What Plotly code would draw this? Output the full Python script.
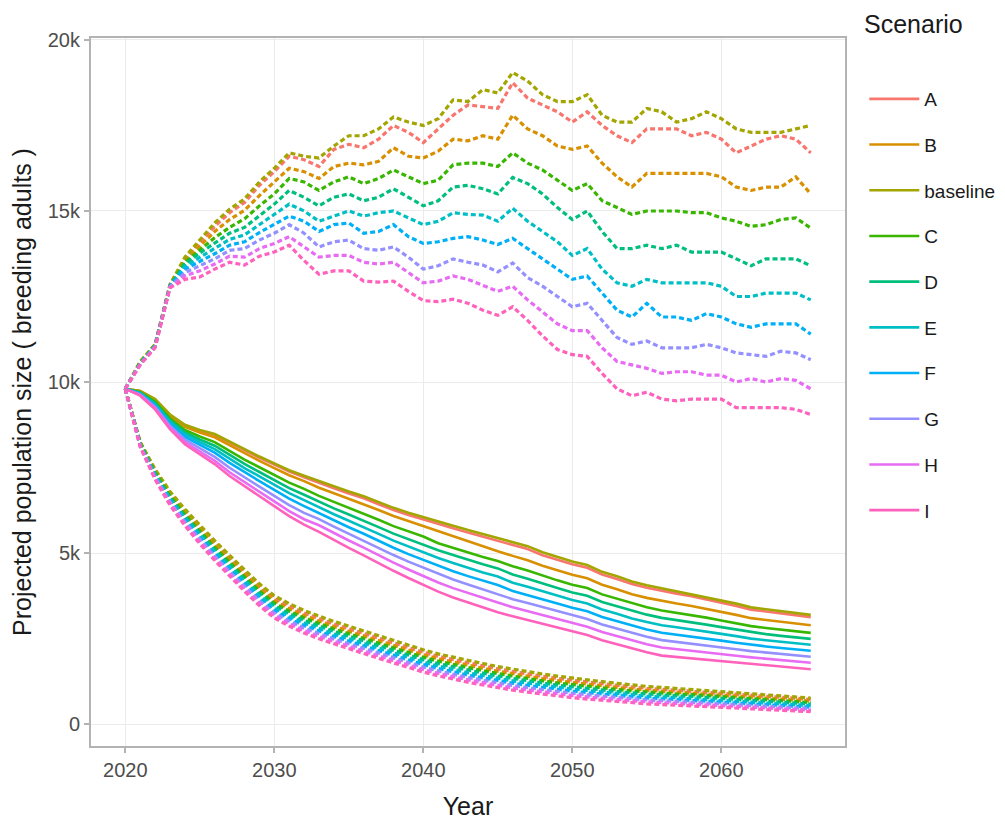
import plotly.graph_objects as go

years = list(range(2020, 2067))
scenarios = ["A", "B", "baseline", "C", "D", "E", "F", "G", "H", "I"]
colors = ["#F8766D", "#D89000", "#A3A500", "#39B600", "#00BF7D",
          "#00BFC4", "#00B0F6", "#9590FF", "#E76BF3", "#FF62BC"]

# ---- median (solid) ----
med_A = [9800, 9736, 9491, 9037, 8733, 8578, 8454, 8230, 7988, 7785,
         7583, 7380, 7217, 7048, 6895, 6742, 6599, 6427, 6256, 6113,
         5990, 5848, 5727, 5596, 5475, 5364, 5243, 5114, 4937, 4798,
         4668, 4568, 4370, 4240, 4091, 3982, 3891, 3813, 3734, 3646,
         3548, 3451, 3344, 3284, 3225, 3176, 3126]
med_B = [9800, 9725, 9467, 9003, 8687, 8521, 8383, 8149, 7902, 7692,
         7483, 7273, 7103, 6908, 6746, 6586, 6435, 6257, 6081, 5932,
         5801, 5633, 5485, 5331, 5185, 5049, 4916, 4790, 4625, 4489,
         4361, 4261, 4070, 3942, 3796, 3688, 3596, 3523, 3451, 3369,
         3280, 3191, 3095, 3038, 2982, 2934, 2888]
med_baseline = [9800, 9740, 9500, 9050, 8750, 8600, 8480, 8260, 8020, 7820,
                7620, 7420, 7260, 7100, 6950, 6800, 6660, 6490, 6320, 6180,
                6060, 5920, 5800, 5670, 5550, 5440, 5330, 5200, 5020, 4880,
                4750, 4650, 4450, 4320, 4170, 4060, 3970, 3890, 3810, 3720,
                3620, 3520, 3410, 3350, 3290, 3240, 3190]
med_C = [9800, 9702, 9419, 8934, 8596, 8406, 8242, 7987, 7731, 7507,
         7283, 7058, 6874, 6671, 6495, 6322, 6158, 5971, 5786, 5626,
         5483, 5285, 5149, 5013, 4884, 4767, 4611, 4487, 4334, 4200,
         4074, 3974, 3790, 3663, 3520, 3413, 3320, 3253, 3186, 3110,
         3029, 2949, 2862, 2809, 2755, 2709, 2665]
med_D = [9800, 9685, 9383, 8882, 8528, 8319, 8137, 7866, 7603, 7368,
         7133, 6897, 6702, 6493, 6306, 6124, 5951, 5756, 5566, 5397,
         5244, 5080, 4939, 4801, 4669, 4550, 4371, 4250, 4105, 3974,
         3848, 3748, 3570, 3444, 3303, 3198, 3103, 3041, 2978, 2906,
         2832, 2759, 2680, 2628, 2577, 2532, 2490]
med_E = [9800, 9670, 9350, 8835, 8465, 8240, 8040, 7755, 7485, 7240,
         6995, 6750, 6545, 6330, 6134, 5942, 5760, 5559, 5363, 5187,
         5025, 4854, 4708, 4568, 4432, 4312, 4131, 4012, 3876, 3747,
         3623, 3523, 3350, 3226, 3087, 2982, 2887, 2829, 2771, 2703,
         2636, 2569, 2497, 2448, 2399, 2355, 2316]
med_F = [9800, 9653, 9314, 8783, 8397, 8154, 7934, 7634, 7357, 7101,
         6845, 6589, 6373, 6160, 5953, 5752, 5562, 5353, 5152, 4967,
         4796, 4618, 4467, 4324, 4185, 4062, 3891, 3774, 3647, 3520,
         3397, 3297, 3130, 3007, 2870, 2766, 2670, 2616, 2563, 2499,
         2439, 2378, 2314, 2268, 2221, 2177, 2141]
med_G = [9800, 9634, 9272, 8723, 8317, 8053, 7811, 7492, 7207, 6938,
         6670, 6402, 6173, 5990, 5773, 5563, 5363, 5148, 4940, 4748,
         4568, 4383, 4225, 4080, 3938, 3813, 3651, 3537, 3418, 3294,
         3172, 3072, 2910, 2788, 2653, 2551, 2453, 2404, 2355, 2296,
         2242, 2188, 2132, 2087, 2043, 2000, 1966]
med_H = [9800, 9615, 9233, 8667, 8243, 7959, 7697, 7361, 7068, 6788,
         6508, 6227, 5987, 5812, 5584, 5365, 5155, 4933, 4719, 4518,
         4329, 4137, 3973, 3826, 3680, 3552, 3412, 3299, 3190, 3067,
         2946, 2846, 2690, 2569, 2436, 2335, 2236, 2192, 2147, 2092,
         2045, 1998, 1949, 1907, 1864, 1823, 1791]
med_I = [9800, 9600, 9200, 8620, 8180, 7880, 7600, 7250, 6950, 6660,
         6370, 6080, 5830, 5620, 5380, 5150, 4930, 4700, 4480, 4270,
         4070, 3870, 3700, 3550, 3400, 3270, 3150, 3040, 2940, 2820,
         2700, 2600, 2450, 2330, 2200, 2100, 2000, 1960, 1920, 1870,
         1830, 1790, 1750, 1710, 1670, 1630, 1600]

# ---- upper bound (dotted) ----
hi_A = [9800, 10580, 11090, 12840, 13600, 14070, 14550, 14950, 15250, 15750,
        16150, 16600, 16500, 16300, 16800, 16950, 16850, 17100, 17500, 17300,
        17000, 17400, 17800, 18100, 18050, 18000, 18750, 18300, 18100, 17900,
        17600, 17900, 17500, 17200, 17000, 17400, 17400, 17400, 17200, 17300,
        17100, 16700, 16900, 17100, 17200, 17100, 16700]
hi_B = [9800, 10570, 11080, 12830, 13550, 13970, 14400, 14750, 15020, 15450,
        15850, 16250, 16150, 15950, 16300, 16400, 16350, 16450, 16850, 16600,
        16550, 16750, 17100, 17050, 17200, 17100, 17800, 17400, 17200, 16900,
        16800, 16900, 16400, 16000, 15700, 16100, 16100, 16100, 16100, 16100,
        16000, 15700, 15600, 15700, 15700, 16000, 15500]
hi_baseline = [9800, 10600, 11100, 12850, 13650, 14150, 14650, 15050, 15350, 15850,
               16250, 16700, 16600, 16550, 16900, 17200, 17200, 17400, 17750, 17600,
               17500, 17700, 18250, 18200, 18550, 18450, 19050, 18800, 18400, 18200,
               18200, 18400, 17800, 17600, 17600, 18000, 17900, 17600, 17700, 17900,
               17700, 17400, 17300, 17300, 17300, 17400, 17500]
hi_C = [9800, 10560, 11070, 12820, 13500, 13870, 14220, 14520, 14770, 15150,
        15500, 15950, 15850, 15600, 15850, 16000, 15800, 15950, 16200, 16000,
        15800, 15900, 16350, 16400, 16400, 16300, 16700, 16400, 16200, 15900,
        15600, 15800, 15300, 15100, 14900, 15000, 15000, 15000, 14950, 14950,
        14800, 14700, 14550, 14600, 14750, 14800, 14500]
hi_D = [9800, 10550, 11060, 12810, 13450, 13770, 14060, 14350, 14520, 14870,
        15200, 15600, 15400, 15150, 15400, 15500, 15300, 15400, 15650, 15400,
        15150, 15300, 15700, 15750, 15650, 15500, 15980, 15800, 15500, 15100,
        14750, 15000, 14400, 13900, 13900, 14000, 13900, 14000, 13800, 13800,
        13800, 13600, 13400, 13600, 13600, 13600, 13400]
hi_E = [9800, 10540, 11050, 12800, 13380, 13650, 13900, 14170, 14300, 14600,
        14900, 15200, 15000, 14700, 14850, 15000, 14850, 14950, 15000, 14800,
        14600, 14700, 14950, 14900, 14880, 14700, 15080, 14700, 14400, 14100,
        13700, 13900, 13300, 12900, 12800, 13000, 12900, 12900, 12900, 12900,
        12800, 12500, 12500, 12600, 12600, 12600, 12400]
hi_F = [9800, 10530, 11040, 12790, 13300, 13520, 13750, 14000, 14100, 14370,
        14600, 14850, 14700, 14400, 14600, 14650, 14350, 14400, 14600, 14250,
        14050, 14100, 14200, 14250, 14150, 14020, 14200, 13900, 13600, 13300,
        13000, 13100, 12600, 12100, 11900, 12300, 11900, 11900, 11800, 12000,
        11900, 11700, 11600, 11700, 11700, 11700, 11400]
hi_G = [9800, 10520, 11030, 12780, 13200, 13400, 13600, 13850, 13900, 14150,
        14350, 14600, 14350, 13950, 14100, 14150, 13900, 13850, 13950, 13650,
        13300, 13400, 13600, 13500, 13420, 13220, 13480, 13050, 12800, 12500,
        12200, 12300, 11800, 11300, 11100, 11200, 11000, 11000, 11000, 11100,
        11000, 10850, 10800, 10750, 10900, 10850, 10650]
hi_H = [9800, 10510, 11020, 12770, 13100, 13250, 13450, 13680, 13650, 13900,
        14050, 14250, 13950, 13650, 13700, 13700, 13500, 13450, 13500, 13200,
        12900, 12950, 13100, 13000, 12820, 12650, 12800, 12400, 12050, 11700,
        11500, 11500, 11000, 10600, 10500, 10400, 10250, 10300, 10300, 10200,
        10200, 10000, 10100, 10000, 10100, 10050, 9800]
hi_I = [9800, 10500, 11000, 12750, 13000, 13070, 13300, 13500, 13420, 13680,
        13800, 14000, 13550, 13150, 13250, 13250, 12950, 12920, 12950, 12650,
        12380, 12350, 12420, 12300, 12100, 11950, 12200, 11800, 11350, 10950,
        10800, 10750, 10250, 9800, 9600, 9700, 9500, 9450, 9500, 9500,
        9500, 9250, 9250, 9250, 9250, 9200, 9050]

# ---- lower bound (dotted) ----
lo_A = [9800, 8233, 7417, 6756, 6227, 5750, 5296, 4862, 4440, 4029,
        3678, 3447, 3247, 3077, 2927, 2787, 2647, 2507, 2367, 2227,
        2098, 1979, 1879, 1780, 1700, 1611, 1532, 1463, 1394, 1334,
        1277, 1228, 1179, 1130, 1082, 1043, 1014, 986, 967, 938,
        909, 880, 851, 822, 793, 754, 716]
lo_B = [9800, 8217, 7383, 6711, 6173, 5690, 5231, 4794, 4370, 3958,
        3606, 3373, 3173, 3003, 2853, 2713, 2573, 2433, 2293, 2153,
        2026, 1908, 1808, 1710, 1630, 1542, 1464, 1397, 1329, 1269,
        1213, 1166, 1118, 1070, 1024, 987, 959, 931, 913, 886,
        858, 830, 802, 774, 747, 709, 671]
lo_baseline = [9800, 8250, 7450, 6800, 6280, 5810, 5360, 4930, 4510, 4100,
               3750, 3520, 3320, 3150, 3000, 2860, 2720, 2580, 2440, 2300,
               2170, 2050, 1950, 1850, 1770, 1680, 1600, 1530, 1460, 1400,
               1340, 1290, 1240, 1190, 1140, 1100, 1070, 1040, 1020, 990,
               960, 930, 900, 870, 840, 800, 760]
lo_C = [9800, 8200, 7350, 6667, 6120, 5630, 5167, 4727, 4300, 3887,
        3533, 3300, 3100, 2930, 2780, 2640, 2500, 2360, 2220, 2080,
        1953, 1837, 1737, 1640, 1560, 1473, 1397, 1330, 1263, 1203,
        1150, 1103, 1057, 1010, 967, 930, 903, 877, 860, 833,
        807, 780, 753, 727, 700, 663, 627]
lo_D = [9800, 8183, 7317, 6622, 6067, 5570, 5102, 4659, 4230, 3816,
        3461, 3227, 3027, 2857, 2707, 2567, 2427, 2287, 2147, 2007,
        1881, 1766, 1666, 1570, 1490, 1404, 1329, 1263, 1198, 1138,
        1087, 1041, 996, 950, 909, 873, 848, 822, 807, 781,
        756, 730, 704, 679, 653, 618, 582]
lo_E = [9800, 8167, 7283, 6578, 6013, 5510, 5038, 4591, 4160, 3744,
        3389, 3153, 2953, 2783, 2633, 2493, 2353, 2213, 2073, 1933,
        1809, 1694, 1594, 1500, 1420, 1336, 1261, 1197, 1132, 1072,
        1023, 979, 934, 890, 851, 817, 792, 768, 753, 729,
        704, 680, 656, 631, 607, 572, 538]
lo_F = [9800, 8150, 7250, 6533, 5960, 5450, 4973, 4523, 4090, 3673,
        3317, 3080, 2880, 2710, 2560, 2420, 2280, 2140, 2000, 1860,
        1737, 1623, 1523, 1430, 1350, 1267, 1193, 1130, 1067, 1007,
        960, 917, 873, 830, 793, 760, 737, 713, 700, 677,
        653, 630, 607, 583, 560, 527, 493]
lo_G = [9800, 8133, 7217, 6489, 5907, 5390, 4909, 4456, 4020, 3602,
        3244, 3007, 2807, 2637, 2487, 2347, 2207, 2067, 1927, 1787,
        1664, 1552, 1452, 1360, 1280, 1198, 1126, 1063, 1001, 941,
        897, 854, 812, 770, 736, 703, 681, 659, 647, 624,
        602, 580, 558, 536, 513, 481, 449]
lo_H = [9800, 8117, 7183, 6444, 5853, 5330, 4844, 4388, 3950, 3531,
        3172, 2933, 2733, 2563, 2413, 2273, 2133, 1993, 1853, 1713,
        1592, 1481, 1381, 1290, 1210, 1129, 1058, 997, 936, 876,
        833, 792, 751, 710, 678, 647, 626, 604, 593, 572,
        551, 530, 509, 488, 467, 436, 404]
lo_I = [9800, 8100, 7150, 6400, 5800, 5270, 4780, 4320, 3880, 3460,
        3100, 2860, 2660, 2490, 2340, 2200, 2060, 1920, 1780, 1640,
        1520, 1410, 1310, 1220, 1140, 1060, 990, 930, 870, 810,
        770, 730, 690, 650, 620, 590, 570, 550, 540, 520,
        500, 480, 460, 440, 420, 390, 360]

x_ticks = [2020, 2030, 2040, 2050, 2060]
y_ticks = [0, 5000, 10000, 15000, 20000]
y_ticktext = ["0", "5k", "10k", "15k", "20k"]

median = dict(A=med_A, B=med_B, baseline=med_baseline, C=med_C, D=med_D,
              E=med_E, F=med_F, G=med_G, H=med_H, I=med_I)
upper = dict(A=hi_A, B=hi_B, baseline=hi_baseline, C=hi_C, D=hi_D,
             E=hi_E, F=hi_F, G=hi_G, H=hi_H, I=hi_I)
lower = dict(A=lo_A, B=lo_B, baseline=lo_baseline, C=lo_C, D=lo_D,
             E=lo_E, F=lo_F, G=lo_G, H=lo_H, I=lo_I)

FONT = "Liberation Sans, Arial, sans-serif"

fig = go.Figure()
for s, c in zip(scenarios, colors):
    fig.add_trace(go.Scatter(
        x=years, y=median[s], mode="lines", name=s, legendgroup=s,
        line=dict(color=c, width=2.6), showlegend=True))
for s, c in zip(scenarios, colors):
    fig.add_trace(go.Scatter(
        x=years, y=upper[s], mode="lines", name=s, legendgroup=s,
        line=dict(color=c, width=3.2, dash="5px,3px"), showlegend=False))
for s, c in zip(scenarios, colors):
    fig.add_trace(go.Scatter(
        x=years, y=lower[s], mode="lines", name=s, legendgroup=s,
        line=dict(color=c, width=3.2, dash="5px,3px"), showlegend=False))

axis_common = dict(
    automargin=False,
    showline=True, linecolor="#b3b3b3", linewidth=2, mirror=True,
    ticks="outside", ticklen=5, tickwidth=2, tickcolor="#b3b3b3",
    showgrid=True, gridcolor="#ebebeb", gridwidth=1, zeroline=False,
    tickfont=dict(family=FONT, size=20, color="#4d4d4d"),
)

# the page body adds an 8px offset, so the figure is 8px smaller and margins shifted
fig.update_layout(
    width=997, height=815,
    paper_bgcolor="white", plot_bgcolor="white",
    margin=dict(l=83, r=160, t=30, b=77, autoexpand=False),
    font=dict(family=FONT, color="#1a1a1a"),
    xaxis=dict(range=[2017.7, 2068.3], tickvals=x_ticks,
               title=dict(text="Year", font=dict(family=FONT, size=25, color="#1a1a1a"), standoff=17),
               **axis_common),
    yaxis=dict(range=[-643, 20058], tickvals=y_ticks, ticktext=y_ticktext,
               title=dict(text="Projected population size ( breeding adults )",
                          font=dict(family=FONT, size=25, color="#1a1a1a"), standoff=9),
               **axis_common),
    legend=dict(x=1.0256, xanchor="left", y=0.9407, yanchor="top",
                font=dict(family=FONT, size=19, color="#1a1a1a"),
                tracegroupgap=18, bgcolor="rgba(0,0,0,0)", itemwidth=50),
    annotations=[dict(text="Scenario", xref="paper", yref="paper",
                      x=1.024, y=1.0415, xanchor="left", yanchor="top",
                      showarrow=False, borderpad=0,
                      font=dict(family=FONT, size=25, color="#1a1a1a"))],
    showlegend=True,
)

fig.write_html("out.html")
